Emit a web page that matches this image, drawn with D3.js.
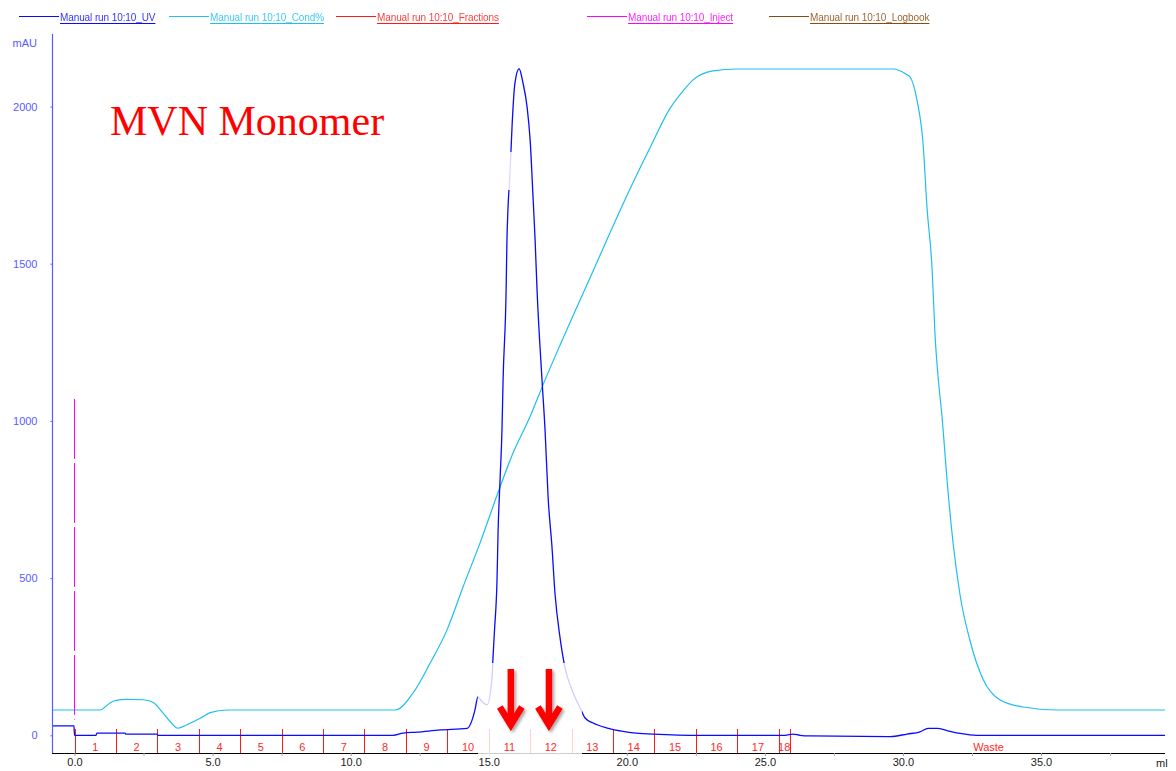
<!DOCTYPE html>
<html><head><meta charset="utf-8">
<script src="https://cdn.jsdelivr.net/npm/d3@7"></script>
<style>
body{margin:0;background:#fff}
svg{display:block}
</style>
</head><body>
<svg id="c" width="1176" height="771" font-family="'Liberation Sans',Arial,sans-serif"></svg>
<script>
// ---------------- data ----------------
const uvVolume = [-0.815,-0.02,0.0,0.78,0.81,1.83,1.86,2.99,3.02,11.53,11.9,12.4,13.24,14.22,14.4,14.5,14.61,14.76,14.94,15.12,15.15,15.21,15.3,15.34,15.41,15.48,15.52,15.63,15.66,15.7,15.77,15.85,15.95,16.1,16.24,16.39,16.5,16.61,16.68,16.75,16.93,17.04,17.15,17.29,17.4,17.58,17.76,18.02,18.31,18.49,18.78,19.29,19.76,20.23,20.95,22.65,25.73,26.01,26.27,26.64,29.54,30.15,30.62,30.91,31.24,31.6,32.07,32.68,39.49];
const uvAbsorbance = [30,30,0,0,7,7,4,4,0,0,7,10,17,22,49,80,122,107,97,183,240,335,493,652,812,971,1130,1416,1575,1680,1788,1947,2075,2120,2075,1998,1893,1702,1575,1416,1130,971,758,600,451,312,216,143,87,55,39,23,14,7.5,4,0,0,4,0,-2,-4,4,11,22,22,15,6,0,0];

const condVolume = [-0.815,0.92,1.29,1.47,1.90,2.48,2.84,3.21,3.46,3.75,4.07,4.55,4.91,5.52,11.61,12.26,12.88,13.49,14.07,14.68,15.41,15.88,16.49,17.04,17.58,18.78,20.01,20.84,21.57,22.04,22.40,23.12,23.99,29.64,30.15,30.26,30.52,30.73,30.87,31.06,31.16,31.27,31.42,31.60,31.82,32.07,32.43,32.90,33.52,34.35,35.58,39.49];
const condPercent = [0,0,1.1,1.45,1.67,1.6,1.2,-0.5,-1.8,-2.85,-2.3,-1.3,-0.42,0,0,2.65,7.33,12.5,19.2,26.0,34.8,40.1,45.7,51.5,56.9,68.5,80.3,87.7,93.9,96.6,98.3,99.7,100,100,99.1,98.75,94.9,88.3,78.5,68.5,58.7,52.1,45.6,35.7,25.9,17.9,10.8,4.8,1.56,0.47,0,0];

const fractionBounds = [0,1.5,3.0,4.5,6.0,7.5,9.0,10.5,12.0,13.5,15.0,16.5,18.0,19.5,21.0,22.5,24.0,25.5,25.9,40.3];
const fractionLabels = ["1","2","3","4","5","6","7","8","9","10","11","12","13","14","15","16","17","18","Waste"];

const injectVolume = [0];
const injectMark = [1070];

const xTickValues = [0,5,10,15,20,25,30,35];
const xMinorTicks = [2.5,7.5,12.5,17.5,22.5,27.5,32.5,37.5];
const yTickValues = [0,500,1000,1500,2000];

const legendNames = ["Manual run 10:10_UV","Manual run 10:10_Cond%","Manual run 10:10_Fractions","Manual run 10:10_Inject","Manual run 10:10_Logbook"];
const arrowVolumes = [15.8,17.18];
const title = "MVN Monomer";

// ---------------- drawing ----------------
const svg = d3.select("#c");
const C = {uv:"#0a0aff", cond:"#1ebff0", frac:"#ff1a1a", inject:"#ff00ff", log:"#8a4a10", axisBlue:"#5a5aff"};
const legendColors = [C.uv, C.cond, C.frac, C.inject, C.log];
const legendLineStart = [19,169,336,587,769];

const x = d3.scaleLinear().domain([-0.815, 39.49]).range([52, 1165]);
const y = d3.scaleLinear().domain([0, 2000]).range([735.3, 106.5]);
const yc = d3.scaleLinear().domain([0, 100]).range([710, 69]);

const defs = svg.append("defs");
const f = defs.append("filter").attr("id","sh").attr("x","-50%").attr("y","-50%").attr("width","200%").attr("height","200%");
f.append("feDropShadow").attr("dx",2).attr("dy",2).attr("stdDeviation",1.6).attr("flood-color","#000").attr("flood-opacity",0.35);

// legend
legendNames.forEach((n,i)=>{
  const x0 = legendLineStart[i];
  svg.append("line").attr("x1",x0).attr("x2",x0+40).attr("y1",16.5).attr("y2",16.5).attr("stroke",legendColors[i]).attr("stroke-width",1);
  const t = svg.append("text").attr("x",x0+41).attr("y",21).attr("font-size",10).attr("letter-spacing",-0.1)
    .attr("fill",legendColors[i]).style("opacity",0.85).text(n);
  const w = t.node().getComputedTextLength();
  svg.append("line").attr("x1",x0+41).attr("x2",x0+41+w).attr("y1",23.5).attr("y2",23.5).attr("stroke",legendColors[i]).attr("stroke-width",1);
});

// title
svg.append("text").attr("x",110).attr("y",135).style("font-family","'Liberation Serif','Times New Roman',serif")
  .attr("font-size",42).attr("fill","#ff0000").text(title);

// cond line
const condData = condVolume.map((v,i)=>[v,condPercent[i]]);
svg.append("path").datum(condData).attr("fill","none").attr("stroke",C.cond).attr("stroke-width",1.2)
  .attr("d", d3.line().x(d=>x(d[0])).y(d=>yc(d[1])).curve(d3.curveMonotoneX));

// inject line
injectVolume.forEach((v,i)=>{
  svg.append("line").attr("x1",x(v)).attr("x2",x(v)).attr("y1",y(injectMark[i])).attr("y2",y(50))
    .attr("stroke",C.inject).attr("stroke-width",1).attr("stroke-dasharray","60,4");
});

// fractions
const fracG = svg.append("g");
fractionBounds.slice(0,-1).forEach(v=>{
  fracG.append("line").attr("x1",Math.round(x(v))+0.5).attr("x2",Math.round(x(v))+0.5).attr("y1",729).attr("y2",753)
    .attr("stroke",C.frac).attr("stroke-width",1);
});

// UV line
const uvData = uvVolume.map((v,i)=>[v,uvAbsorbance[i]]);
svg.append("path").datum(uvData).attr("fill","none").attr("stroke",C.uv).attr("stroke-width",1.3)
  .attr("d", d3.line().x(d=>x(d[0])).y(d=>y(d[1])).curve(d3.curveMonotoneX));

// x axis
const xAxisG = svg.append("g").attr("transform","translate(0,753)");
xAxisG.append("line").attr("x1",52).attr("x2",1165).attr("y1",0.5).attr("y2",0.5).attr("stroke","#000");
const xa = xAxisG.append("g").call(d3.axisBottom(x).tickValues(xTickValues).tickFormat(d3.format(".1f")).tickSize(3).tickPadding(2));
xa.attr("font-family",null).attr("font-size",null);
xa.select(".domain").remove();
xa.selectAll("line").attr("stroke","#999");
xa.selectAll("text").attr("font-size",11).attr("fill","#222");
const xm = xAxisG.append("g").call(d3.axisBottom(x).tickValues(xMinorTicks).tickFormat("").tickSize(3));
xm.select(".domain").remove();
xm.selectAll("line").attr("stroke","#aaa");
svg.append("text").attr("x",1156).attr("y",767).attr("font-size",11).attr("fill","#222").text("ml");

// y axis
const ya = svg.append("g").attr("transform","translate(52.5,0)")
  .call(d3.axisLeft(y).tickValues(yTickValues).tickFormat(d3.format("d")).tickSize(2).tickPadding(13));
ya.attr("font-family",null).attr("font-size",null);
ya.select(".domain").remove();
ya.selectAll("line").attr("stroke",C.axisBlue);
ya.selectAll("text").attr("font-size",11).attr("fill",C.axisBlue);
svg.append("line").attr("x1",52.5).attr("x2",52.5).attr("y1",34).attr("y2",753).attr("stroke",C.axisBlue).attr("stroke-width",1.2);
svg.append("text").attr("x",37).attr("y",47).attr("text-anchor","end").attr("font-size",11).attr("fill",C.axisBlue).text("mAU");

// pasted overlays (white, semi-opaque)
svg.append("rect").attr("x",478).attr("y",663).attr("width",104).attr("height",93).attr("fill","#fff").attr("opacity",0.8);
svg.append("rect").attr("x",505).attr("y",152).attr("width",9).attr("height",38).attr("fill","#fff").attr("opacity",0.85);

// fraction labels
fractionLabels.forEach((l,i)=>{
  const cx = (x(fractionBounds[i]) + x(fractionBounds[i+1]))/2;
  svg.append("text").attr("x",cx).attr("y",751).attr("text-anchor","middle").attr("font-size",11).attr("fill","#ff2a2a").text(l);
});

// arrows
arrowVolumes.forEach(v=>{
  const cx = x(v);
  svg.append("path").attr("d",`M${cx},669 L${cx},726 M${cx-11},707 L${cx},725 L${cx+11},707`)
    .attr("fill","none").attr("stroke","#ff0000").attr("stroke-width",6.5).attr("stroke-linejoin","miter").attr("filter","url(#sh)");
});
</script>
</body></html>
